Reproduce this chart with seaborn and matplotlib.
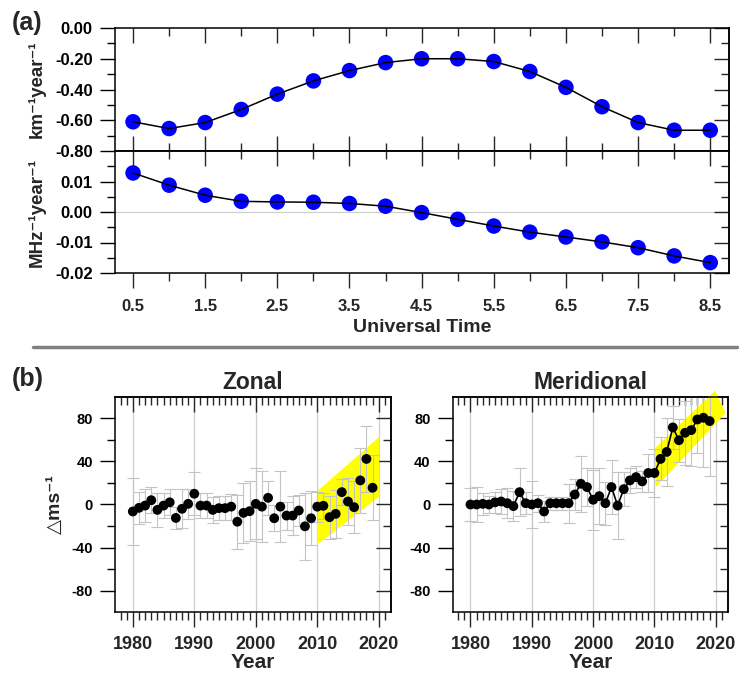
import numpy as np
import pandas as pd
import matplotlib
matplotlib.use("Agg")
import matplotlib.pyplot as plt
from matplotlib.ticker import FixedLocator, FormatStrFormatter
from matplotlib.lines import Line2D
import seaborn as sns

# ---- panel (a): trends vs universal time
ut = [0.5, 1.0, 1.5, 2.0, 2.5, 3.0, 3.5, 4.0, 4.5, 5.0, 5.5, 6.0, 6.5, 7.0, 7.5, 8.0, 8.5]
km_rate = [-0.61, -0.654, -0.615, -0.53, -0.43, -0.344, -0.277, -0.225, -0.20, -0.20,
           -0.218, -0.283, -0.386, -0.512, -0.615, -0.665, -0.665]
mhz_rate = [0.0128, 0.0088, 0.0055, 0.0035, 0.0033, 0.0032, 0.0028, 0.0019, -0.0002,
            -0.0024, -0.0046, -0.0066, -0.0082, -0.0098, -0.0117, -0.0144, -0.0166]

# ---- panel (b): yearly wind differences
years = list(range(1980, 2020))
zonal = [-6.5, -3.1, -1.0, 4.0, -5.0, -1.0, 2.0, -12.5, -4.0, 0.6,
         10.0, -1.0, -1.0, -5.0, -3.4, -3.4, -2.0, -16.0, -7.8, -6.2,
         0.6, -2.0, 6.2, -12.8, -2.0, -10.3, -10.3, -5.6, -20.3, -12.8,
         -2.0, -1.2, -11.8, -8.7, 11.5, 2.8, -2.5, 22.4, 42.4, 15.6]
zonal_err = [31, 15, 15, 12, 16, 12, 12, 10, 18, 14,
             20, 12, 12, 12, 11, 11, 12, 25, 28, 28,
             33, 33, 16, 12, 33, 13, 18, 14, 31, 25,
             14, 12, 20, 22, 12, 22, 24, 30, 31, 30]
merid = [0.0, 0.0, 0.6, 0.0, 2.0, 2.8, 1.2, -1.5, 11.5, 1.2,
         0.0, 1.2, -6.5, 1.2, 1.2, 1.2, 1.2, 9.3, 19.3, 16.2,
         4.4, 7.8, 1.2, 16.2, -1.0, 14.3, 22.4, 25.5, 21.5, 29.3,
         29.3, 42.4, 48.9, 71.7, 59.8, 66.7, 69.2, 79.1, 80.7, 77.6]
merid_err = [15, 16, 10, 8, 10, 12, 14, 14, 22, 10,
             22, 8, 10, 6, 6, 6, 18, 14, 26, 18,
             28, 26, 20, 25, 31, 16, 12, 10, 10, 18,
             22, 20, 32, 20, 20, 30, 33, 31, 46, 51]

zonal_band_x = [2010.0, 2010.0, 2020.1, 2020.1]
zonal_band_y = [-37.4, 12.4, 63.0, 7.5]
merid_band_x = [2010.2, 2010.0, 2019.9, 2021.6]
merid_band_y = [16.0, 52.0, 106.0, 85.0]

sns.set_theme(style="white")
plt.rcParams["font.family"] = ["Liberation Sans", "DejaVu Sans"]
plt.rcParams["font.weight"] = "bold"
plt.rcParams["axes.unicode_minus"] = False
plt.rcParams["axes.edgecolor"] = "black"
plt.rcParams["axes.linewidth"] = 1.1

W, H = 739, 676
fig = plt.figure(figsize=(W / 100, H / 100), dpi=100)


def px_axes(x0, y0, x1, y1):
    return fig.add_axes([x0 / W, 1 - y1 / H, (x1 - x0) / W, (y1 - y0) / H])


ax1 = px_axes(115, 28, 729, 151)
ax2 = px_axes(115, 151, 729, 273)
ax3 = px_axes(115, 397, 391, 612)
ax4 = px_axes(452.7, 397, 728, 612)

MAJ, MIN = 11, 5.5
TW = 1.0


def set_ticks(ax, xmaj, xmin, ymaj, ymin, top_in=True, bottom_dir="out", xlabels=True,
              ylabelsize=12, xlabelsize=12, xpad=8):
    ax.xaxis.set_major_locator(FixedLocator(xmaj))
    ax.xaxis.set_minor_locator(FixedLocator(xmin))
    ax.yaxis.set_major_locator(FixedLocator(ymaj))
    ax.yaxis.set_minor_locator(FixedLocator(ymin))
    ax.tick_params(axis="y", which="both", direction="out", left=True, right=False,
                   width=TW, labelsize=ylabelsize, pad=5, colors="black")
    ax.tick_params(axis="y", which="major", length=MAJ)
    ax.tick_params(axis="y", which="minor", length=MIN)
    ax.tick_params(axis="x", which="both", direction=bottom_dir, bottom=True, top=False,
                   width=TW, labelbottom=xlabels, labelsize=xlabelsize, pad=xpad)
    ax.tick_params(axis="x", which="major", length=MAJ)
    ax.tick_params(axis="x", which="minor", length=MIN)
    # inward ticks on right and top
    sy = ax.secondary_yaxis("right")
    sy.yaxis.set_major_locator(FixedLocator(ymaj))
    sy.yaxis.set_minor_locator(FixedLocator(ymin))
    sy.tick_params(axis="y", which="both", direction="in", labelright=False, width=TW)
    sy.tick_params(axis="y", which="major", length=MAJ)
    sy.tick_params(axis="y", which="minor", length=MIN)
    if top_in:
        sx = ax.secondary_xaxis("top")
        sx.xaxis.set_major_locator(FixedLocator(xmaj))
        sx.xaxis.set_minor_locator(FixedLocator(xmin))
        sx.tick_params(axis="x", which="both", direction="in", labeltop=False, width=TW)
        sx.tick_params(axis="x", which="major", length=MAJ)
        sx.tick_params(axis="x", which="minor", length=MIN)


# ---- panel (a)
df_a = pd.DataFrame({"ut": ut, "km": km_rate, "mhz": mhz_rate})
for ax, col in [(ax1, "km"), (ax2, "mhz")]:
    sns.scatterplot(data=df_a, x="ut", y=col, ax=ax, s=125, color="#0000ff",
                    edgecolor="none", zorder=2, clip_on=False)
    sns.lineplot(data=df_a, x="ut", y=col, ax=ax, color="black", lw=1.1, zorder=3)
    ax.set_xlim(0.25, 8.76)
    ax.set_xlabel("")
    ax.set_ylabel("")

ax1.set_ylim(-0.8, 0.0)
ax2.set_ylim(-0.02, 0.02)
ax2.axhline(0, color="#cccccc", lw=0.8, zorder=0)

xmaj_a = np.arange(0.5, 9.0, 1.0)
xmin_a = np.arange(1.0, 9.0, 1.0)
set_ticks(ax1, xmaj_a, xmin_a, [-0.8, -0.6, -0.4, -0.2, 0.0], [-0.7, -0.5, -0.3, -0.1],
          top_in=False, bottom_dir="in", xlabels=False)
ax1.tick_params(axis="x", which="both", top=True)
ax1.yaxis.set_major_formatter(FormatStrFormatter("%.2f"))
set_ticks(ax2, xmaj_a, xmin_a, [-0.02, -0.01, 0.0, 0.01], [-0.015, -0.005, 0.005, 0.015],
          top_in=True, bottom_dir="out", xlabels=True)
ax2.yaxis.set_major_formatter(FormatStrFormatter("%.2f"))
ax2.xaxis.set_major_formatter(FormatStrFormatter("%.1f"))
ax2.set_xlabel("Universal Time", fontsize=14, fontweight="bold", labelpad=3)

fig.text(37 / W, 1 - 89 / H, "km\u207b\u00b9year\u207b\u00b9", rotation=90, ha="center",
         va="center", fontsize=13.5, fontweight="bold")
fig.text(37 / W, 1 - 212 / H, "MHz\u207b\u00b9year\u207b\u00b9", rotation=90, ha="center",
         va="center", fontsize=13.5, fontweight="bold")
fig.text(12 / W, 1 - 23 / H, "(a)", ha="left", va="center", fontsize=18, fontweight="bold")

# separator
fig.add_artist(Line2D([33 / W, 737 / W], [1 - 347 / H, 1 - 347 / H], transform=fig.transFigure,
                      color="#808080", lw=2.5))

# ---- panel (b)
df_b = pd.DataFrame({"year": years, "zonal": zonal, "zonal_err": zonal_err,
                     "merid": merid, "merid_err": merid_err})
for ax, col, bx, by, title in [(ax3, "zonal", zonal_band_x, zonal_band_y, "Zonal"),
                               (ax4, "merid", merid_band_x, merid_band_y, "Meridional")]:
    for yr in range(1980, 2030, 10):
        ax.axvline(yr, color="#cfcfcf", lw=0.9, zorder=0)
    ax.fill(bx, by, color="#ffff00", zorder=1, clip_on=False, lw=0)
    ax.errorbar(df_b["year"], df_b[col], yerr=df_b[col + "_err"], fmt="none",
                ecolor="#c4c4c4", elinewidth=0.8, capsize=4.5, capthick=0.8, zorder=2)
    if col == "merid":
        sns.lineplot(data=df_b, x="year", y=col, ax=ax, color="black", lw=1.2, zorder=3)
    sns.scatterplot(data=df_b, x="year", y=col, ax=ax, s=50, color="black",
                    edgecolor="none", zorder=4)
    ax.set_xlim(1977.1, 2022.0)
    ax.set_ylim(-100, 100)
    ax.set_ylabel("")
    ax.set_xlabel("Year", fontsize=15, fontweight="bold", labelpad=0)
    ax.set_title(title, fontsize=16.5, fontweight="bold", pad=6)
    set_ticks(ax, list(range(1980, 2030, 10)), [y for y in range(1978, 2022) if y % 10],
              [-80, -40, 0, 40, 80], [-60, -20, 20, 60],
              top_in=True, bottom_dir="out", xlabels=True, ylabelsize=10.5, xlabelsize=13,
              xpad=6)

fig.text(55 / W, 1 - 504 / H, "\u25b3ms\u207b\u00b9", rotation=90, ha="center", va="center",
         fontsize=14, fontweight="bold")
fig.text(12 / W, 1 - 379 / H, "(b)", ha="left", va="center", fontsize=18, fontweight="bold")

fig.savefig("out.png", dpi=100)
